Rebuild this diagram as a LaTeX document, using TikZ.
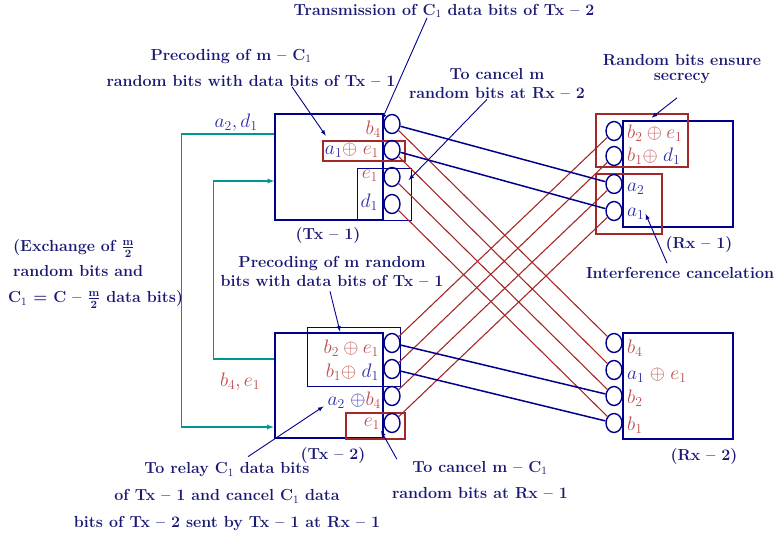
\RequirePackage{fix-cm}
\documentclass[tikz,border=0pt]{standalone}
\usepackage{amsmath}
\usepackage{amssymb}
\usepackage{color}
\usepackage{tikz}
\usetikzlibrary{arrows,shapes.geometric,calc}

\definecolor{navy}{RGB}{0,0,140}
\definecolor{notecol}{RGB}{25,25,115}
\definecolor{lblue}{RGB}{45,45,165}
\definecolor{lred}{RGB}{190,75,75}
\definecolor{linkred}{RGB}{165,40,40}
\definecolor{exch}{RGB}{0,150,150}

\newcommand{\redm}[1]{\textcolor{lred}{#1}}
\newcommand{\bluem}[1]{\textcolor{lblue}{#1}}

\tikzset{
  unit/.style={draw=navy, line width=2.6pt, inner sep=0pt},
  grp/.style={draw=navy, line width=0.8pt, inner sep=0pt},
  rgrp/.style={draw=linkred, line width=1.3pt, inner sep=0pt},
  ant/.style={ellipse, draw=navy, line width=1.4pt, minimum width=16pt, minimum height=19pt, inner sep=0pt},
  note/.style={text=notecol, font=\fontsize{16}{19}\selectfont\bfseries, align=center, inner sep=0pt},
  lbl/.style={font=\fontsize{19.5}{21}\selectfont, inner sep=1pt},
  pointer/.style={-latex, navy, line width=0.9pt},
  bluelink/.style={navy, line width=1.5pt},
  redlink/.style={linkred, line width=1.1pt},
  feed/.style={-latex, exch, line width=1.3pt}
}

\begin{document}
\begin{tikzpicture}[x=1pt,y=-1pt]
            \useasboundingbox (0,0) rectangle (778,543);
            % transmitters and receivers
            \node[unit, line width=1.6pt, minimum width=108pt, minimum height=106pt] (Tx1) at (329,167) {};
            \node[unit, minimum width=108pt, minimum height=105pt] (Tx2) at (329,385.5) {};
            \node[unit, minimum width=110pt, minimum height=106pt] (Rx1) at (678,174) {};
            \node[unit, minimum width=110pt, minimum height=106pt] (Rx2) at (678,386) {};
            \node[note] at ($(Tx1.south)+(-1,15)$) {(Tx -- 1)};
            \node[note] at ($(Tx2.south)+(4,16)$) {(Tx -- 2)};
            \node[note] at ($(Rx1.south)+(21,16)$) {(Rx -- 1)};
            \node[note] at ($(Rx2.south)+(26,16)$) {(Rx -- 2)};
            % groups of bits
            \node[rgrp, minimum width=82pt, minimum height=20pt] (g11) at (364,151) {};
            \node[grp, minimum width=54pt, minimum height=52pt] (g12) at (384,194) {};
            \node[grp, minimum width=93pt, minimum height=59pt] (g21) at (353.5,356.5) {};
            \node[rgrp, minimum width=59pt, minimum height=26pt] (g22) at (375.5,426) {};
            \node[rgrp, minimum width=92pt, minimum height=53pt] (g31) at (642,140.5) {};
            \node[rgrp, minimum width=66pt, minimum height=60pt] (g32) at (629,204) {};
            % antennas
            \foreach \i/\y in {1/124,2/150,3/177,4/204} \node[ant] (t1\i) at (392,\y) {};
            \foreach \i/\y in {1/343,2/369,3/396,4/423} \node[ant] (t2\i) at (392,\y) {};
            \foreach \i/\y in {1/131,2/156,3/184,4/211} \node[ant] (r1\i) at (614,\y) {};
            \foreach \i/\y in {1/343,2/370,3/396,4/423} \node[ant] (r2\i) at (614,\y) {};
            % channels
            \foreach \i in {1,...,4} {
                \draw[redlink] (t1\i) -- (r2\i);
                \draw[redlink] (t2\i) -- (r1\i);
            }
            \draw[bluelink] (t11) -- (r13);
            \draw[bluelink] (t12) -- (r14);
            \draw[bluelink] (t21) -- (r23);
            \draw[bluelink] (t22) -- (r24);
            % bits
            \node[lbl, anchor=east] (b4a) at (382,129) {$\redm{b_4}$};
            \node[lbl, anchor=east] (ae) at (380,150) {$\bluem{a_1}\redm{{\oplus}\; e_1}$};
            \node[lbl, anchor=east] (e1a) at (379,176) {$\redm{e_1}$};
            \node[lbl, anchor=east] (d1a) at (379,202) {$\bluem{d_1}$};
            \node[lbl, anchor=east] (be2) at (380,348) {$\redm{b_2 \oplus e_1}$};
            \node[lbl, anchor=east] (bd) at (380,372) {$\redm{b_1{\oplus}}\;\bluem{d_1}$};
            \node[lbl, anchor=east] (ab) at (382,400) {$\bluem{a_2\;{\oplus}}\redm{b_4}$};
            \node[lbl, anchor=east] (e1b) at (381,424) {$\redm{e_1}$};
            \node[lbl, anchor=west] (be1) at (626,133) {$\redm{b_2 \oplus e_1}$};
            \node[lbl, anchor=west] (bd1) at (626,156) {$\redm{b_1{\oplus}}\;\bluem{d_1}$};
            \node[lbl, anchor=west] (a2r) at (626,189) {$\bluem{a_2}$};
            \node[lbl, anchor=west] (a1r) at (626,214) {$\bluem{a_1}$};
            \node[lbl, anchor=west] (b4r) at (626,348) {$\redm{b_4}$};
            \node[lbl, anchor=west] (aer) at (626,375) {$\bluem{a_1}\;\redm{{\oplus}\; e_1}$};
            \node[lbl, anchor=west] (b2r) at (626,398) {$\redm{b_2}$};
            \node[lbl, anchor=west] (b1r) at (626,425) {$\redm{b_1}$};
            % exchange between transmitters
            \node[lbl] (ad) at (236,123) {$\bluem{a_2, d_1}$};
            \node[lbl] (be) at (240,382) {$\redm{b_4, e_1}$};
            \draw[feed] ([yshift=33pt]Tx1.west) -- ++(-93,0) |- ([yshift=-41.5pt]Tx2.west);
            \draw[feed] ([yshift=26.5pt]Tx2.west) -- ++(-60,0) |- ([yshift=-14pt]Tx1.west);
            \node[note, align=left, anchor=west] (xchg) at (8,274) {\hspace*{5pt}(Exchange of $\frac{\mathbf{m}}{\mathbf{2}}$\\[6pt] \hspace*{5pt}random bits and\\[7pt] C$_1$ = C -- $\frac{\mathbf{m}}{\mathbf{2}}$ data bits)};
            % notes
            \node[note] (trans) at (444,11) {Transmission of C$_1$ data bits of Tx -- 2};
            \node[note, align=left] (precA) at (251,68) {\hspace*{44pt}Precoding of m -- C$_1$\\[7pt] random bits with data bits of Tx -- 1};
            \node[note] (cancelA) at (497,84) {To cancel m\\random bits at Rx -- 2};
            \node[note, font=\fontsize{16}{15}\selectfont\bfseries] (secr) at (682,69) {Random bits ensure\\secrecy};
            \node[note] (intf) at (680,273) {Interference cancelation};
            \node[note] (precB) at (332,271) {Precoding of m random\\bits with data bits of Tx -- 1};
            \node[note] (relay) at (227,497) {To relay C$_1$ data bits\\[8pt] of Tx -- 1 and cancel C$_1$ data\\[8pt] bits of Tx -- 2 sent by Tx -- 1 at Rx -- 1};
            \node[note] (cancelB) at (480,480) {To cancel m -- C$_1$\\[7pt] random bits at Rx -- 1};
            \draw[pointer] ([xshift=-17pt]trans.south) -- (b4a.north east);
            \draw[pointer] ([xshift=41pt]precA.south) -- ([xshift=2pt,yshift=6pt]ae.north west);
            \draw[pointer] ([xshift=-10pt]cancelA.south) -- ([xshift=8pt,yshift=-3pt]t13.east);
            \draw[pointer] ([xshift=-5pt,yshift=-14pt]secr.south) -- ([xshift=30pt,yshift=2pt]Rx1.north west);
            \draw[pointer] ([xshift=-13pt,yshift=4pt]intf.north) -- (a1r.east);
            \draw[pointer] ([xshift=-2pt,yshift=-5pt]precB.south) -- ([xshift=-13.5pt,yshift=-5pt]g21.north);
            \draw[pointer] ([xshift=21pt,yshift=6pt]relay.north) -- ([xshift=-3pt,yshift=3pt]ab.south west);
            \draw[pointer] ([xshift=5pt,yshift=2pt]cancelB.north west) -- (e1b.south east);
        \end{tikzpicture}
\end{document}
